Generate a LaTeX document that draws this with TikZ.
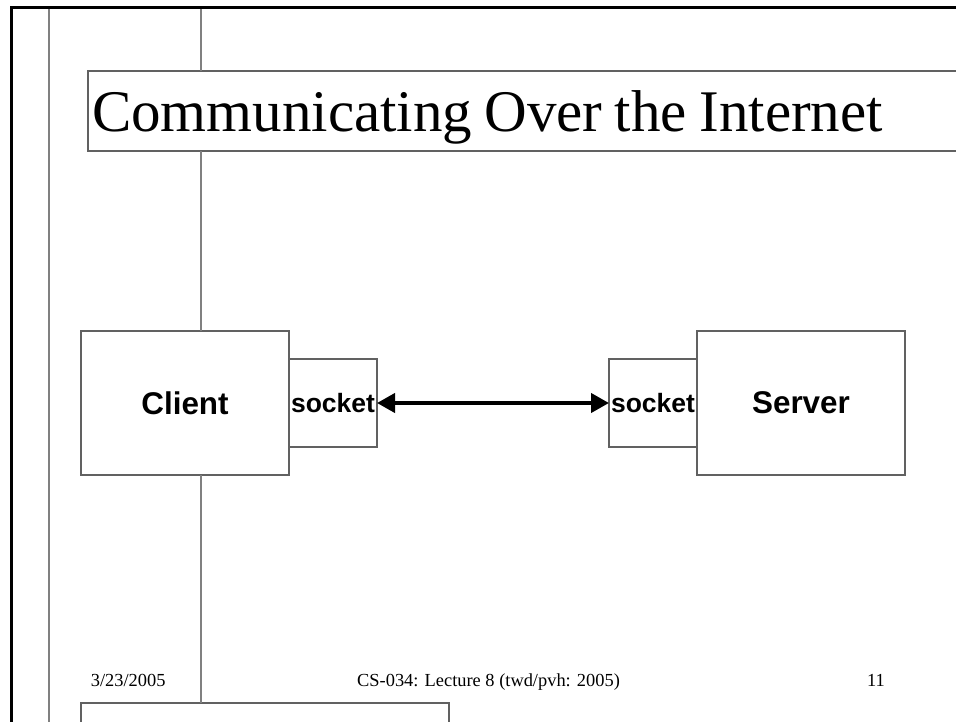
\documentclass[tikz,border=0pt]{standalone}
\usepackage{fontspec}
\setmainfont{Liberation Serif}
\setsansfont{Liberation Sans}
\usetikzlibrary{arrows.meta,positioning}

\begin{document}
\begin{tikzpicture}[x=1pt, y=-1pt]
  \tikzset{
    box/.style={draw=black!62, line width=1.5pt, inner sep=0pt, outer sep=0pt},
    host/.style={box, minimum width=208pt, minimum height=144pt, font=\sffamily\bfseries\fontsize{31.4}{34}\selectfont},
    sock/.style={box, minimum width=88pt, minimum height=88pt, font=\sffamily\bfseries\fontsize{26.5}{28}\selectfont},
    rule/.style={draw=black!50, line width=2pt},
    arr/.style={{Triangle[length=18pt,width=19pt]}-{Triangle[length=18pt,width=19pt]}, line width=4pt},
    foot/.style={font=\fontsize{18.4}{20}\selectfont, inner sep=0pt, anchor=base west}
  }
  \clip (0,0) rectangle (956,722);
  \fill[white] (0,0) rectangle (956,722);
  \coordinate (t0) at (201,8);
  \draw[rule] (49,8) -- (49,730);

  \node[box, anchor=north west, inner xsep=4pt,
        text height=61pt, text depth=19pt, font=\fontsize{59}{61}\selectfont] (title) at (88,71)
        {\spaceskip=0.21em\relax\makebox[888pt][l]{Communicating Over the Internet}};

  \node[host, anchor=north west] (client) at (81,331) {Client};
  \node[sock, right=0pt of client] (csock) {socket};
  \node[host, anchor=north west] (server) at (697,331) {Server};
  \node[sock, left=0pt of server] (ssock) {socket};
  \draw[arr] (csock) -- (ssock);

  \node[box, anchor=north west, minimum width=368pt, minimum height=40pt] (notes) at (81,703) {};

  \draw[rule] (t0) -- (t0 |- title.north);
  \draw[rule] (t0 |- title.south) -- (t0 |- client.north);
  \draw[rule] (t0 |- client.south) -- (t0 |- notes.north);

  \node[foot] (date) at (90.7,686) {3/23/2005};
  \node[foot] (course) at (357,686) {CS-034: Lecture 8 (twd/pvh: 2005)};
  \node[foot, anchor=base east] (page) at (885,686) {11};

  \draw[line width=3pt] (960,8) -- (11,8) -- (11,730);
\end{tikzpicture}
\end{document}
